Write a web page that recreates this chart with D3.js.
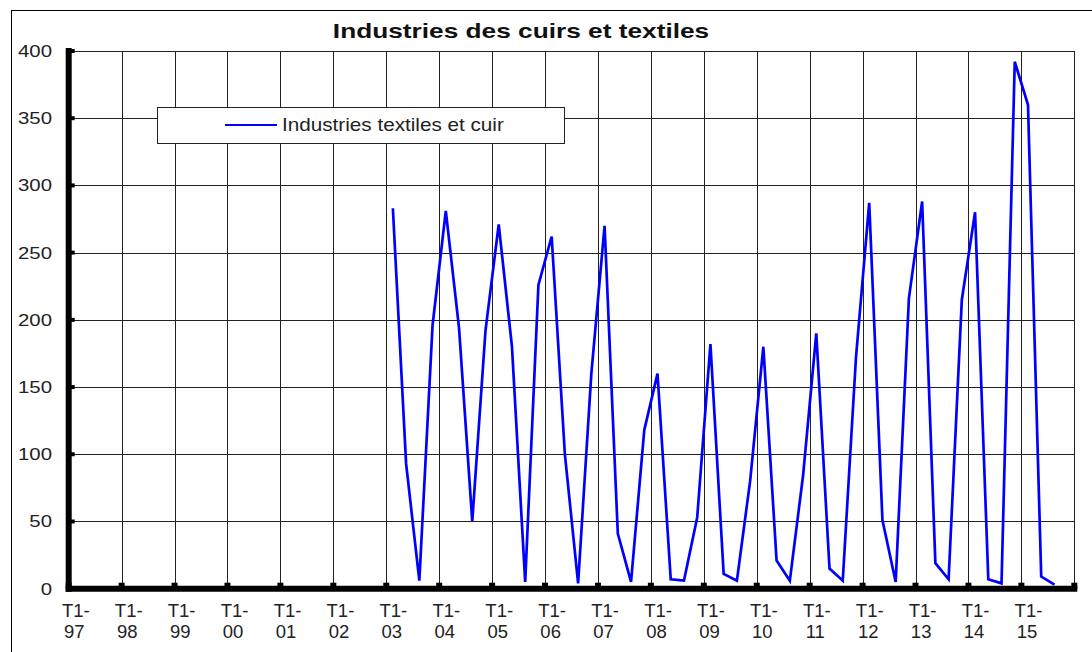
<!DOCTYPE html>
<html>
<head>
<meta charset="utf-8">
<script src="https://cdn.jsdelivr.net/npm/d3@7"></script>
<style>
  body { margin: 0; background: #fff; }
  svg { display: block; font-family: "Liberation Sans", Arial, sans-serif; }
</style>
</head>
<body>
<div id="chart"></div>
<script>
const chartTitle = "Industries des cuirs et textiles";
const seriesName = "Industries textiles et cuir";

const years = ["97", "98", "99", "00", "01", "02", "03", "04", "05", "06",
  "07", "08", "09", "10", "11", "12", "13", "14", "15"];
const quarters = ["T1", "T2", "T3", "T4"];

// one row per year, T1..T4
const values = [
  [null, null, null, null], // 97
  [null, null, null, null], // 98
  [null, null, null, null], // 99
  [null, null, null, null], // 00
  [null, null, null, null], // 01
  [null, null, null, null], // 02
  [283, 93, 6, 196],        // 03
  [281, 194, 50, 192],      // 04
  [271, 180, 5, 226],       // 05
  [262, 100, 4, 160],       // 06
  [270, 41, 5, 118],        // 07
  [160, 7, 6, 53],          // 08
  [182, 11, 6, 80],         // 09
  [180, 21, 6, 84],         // 10
  [190, 15, 6, 172],        // 11
  [287, 51, 5, 216],        // 12
  [288, 19, 7, 215],        // 13
  [280, 7, 4, 392],         // 14
  [360, 9, 3, null]         // 15
];

const yTicks = [0, 50, 100, 150, 200, 250, 300, 350, 400];

let w = 1092;
let h = 652;

let plotLeft = 68.7;
let plotRight = 1074.3;
let plotTop = 51;
let plotBottom = 588.7;

let dataset = [];
years.forEach((yr, i) => {
  quarters.forEach((q, j) => {
    dataset.push({ key: q + "-" + yr, year: yr, quarter: q, v: values[i][j] });
  });
});

const svg = d3.select("#chart").append("svg").attr("width", w).attr("height", h);

const xScale = d3.scaleBand()
  .domain(dataset.map((d) => d.key))
  .range([plotLeft, plotRight])
  .paddingInner(0)
  .paddingOuter(0);

const yScale = d3.scaleLinear().domain([0, 400]).range([plotBottom, plotTop]);

// outer frame (runs off the picture on the right and bottom)
svg.append("rect")
  .attr("x", 11.5).attr("y", 10.5)
  .attr("width", 1200).attr("height", 800)
  .attr("fill", "none").attr("stroke", "#000").attr("stroke-width", 1);

// title
svg.append("text")
  .attr("transform", "translate(521,38) scale(1.25,1)")
  .attr("text-anchor", "middle")
  .style("font-size", "21px")
  .style("font-weight", "bold")
  .style("fill", "#111")
  .text(chartTitle);

// horizontal grid
svg.append("g")
  .selectAll("line")
  .data(yTicks)
  .enter()
  .append("line")
  .attr("x1", plotLeft).attr("x2", plotRight)
  .attr("y1", (d) => Math.round(yScale(d)) + 0.5)
  .attr("y2", (d) => Math.round(yScale(d)) + 0.5)
  .attr("stroke", "#222").attr("stroke-width", 1);

// vertical grid at every T1 and at the end
const yearStarts = dataset.filter((d) => d.quarter === "T1");
const gridX = yearStarts.map((d) => xScale(d.key)).concat([plotRight]);

svg.append("g")
  .selectAll("line")
  .data(gridX)
  .enter()
  .append("line")
  .attr("x1", (d) => Math.round(d) + 0.5).attr("x2", (d) => Math.round(d) + 0.5)
  .attr("y1", plotTop).attr("y2", plotBottom)
  .attr("stroke", "#222").attr("stroke-width", 1);

// legend
svg.append("rect")
  .attr("x", 157.5).attr("y", 107.5)
  .attr("width", 407).attr("height", 36)
  .attr("fill", "#fff").attr("stroke", "#222").attr("stroke-width", 1);

svg.append("line")
  .attr("x1", 225).attr("x2", 277)
  .attr("y1", 125).attr("y2", 125)
  .attr("stroke", "#0000ff").attr("stroke-width", 2);

svg.append("text")
  .attr("transform", "translate(282,131) scale(1.15,1)")
  .style("font-size", "18px")
  .style("fill", "#222")
  .text(seriesName);

// series
const line = d3.line()
  .defined((d) => d.v !== null)
  .x((d) => xScale(d.key) + xScale.bandwidth() / 2)
  .y((d) => yScale(d.v));

svg.append("path")
  .datum(dataset)
  .attr("d", line)
  .attr("fill", "none")
  .attr("stroke", "#0000ff")
  .attr("stroke-width", 2.7)
  .attr("stroke-linejoin", "miter");

// axes (thick)
svg.append("line")
  .attr("x1", plotLeft).attr("x2", plotLeft)
  .attr("y1", plotTop - 3).attr("y2", plotBottom + 3)
  .attr("stroke", "#000").attr("stroke-width", 6);

svg.append("line")
  .attr("x1", plotLeft - 3).attr("x2", plotRight + 3)
  .attr("y1", plotBottom).attr("y2", plotBottom)
  .attr("stroke", "#000").attr("stroke-width", 6);

// tick stubs
svg.append("g")
  .selectAll("line")
  .data(yTicks)
  .enter()
  .append("line")
  .attr("x1", plotLeft).attr("x2", plotLeft + 6)
  .attr("y1", (d) => yScale(d)).attr("y2", (d) => yScale(d))
  .attr("stroke", "#000").attr("stroke-width", 4);

svg.append("g")
  .selectAll("line")
  .data(gridX)
  .enter()
  .append("line")
  .attr("x1", (d) => d).attr("x2", (d) => d)
  .attr("y1", plotBottom).attr("y2", plotBottom - 6)
  .attr("stroke", "#000").attr("stroke-width", 6);

// y labels
svg.append("g")
  .selectAll("text")
  .data(yTicks)
  .enter()
  .append("text")
  .attr("transform", (d) => `translate(52,${yScale(d) + 6}) scale(1.2,1)`)
  .attr("text-anchor", "end")
  .style("font-size", "17px")
  .style("fill", "#222")
  .text((d) => d);

// x labels, two lines (quarter on top, year below)
const xLabelGroup = svg.append("g")
  .attr("text-anchor", "middle")
  .style("font-size", "18.5px")
  .style("fill", "#222");

xLabelGroup.selectAll("text.q")
  .data(yearStarts)
  .enter()
  .append("text")
  .attr("class", "q")
  .attr("x", (d) => xScale(d.key) + xScale.bandwidth() / 2 + 0.5)
  .attr("y", 617)
  .text((d) => d.quarter + "-");

xLabelGroup.selectAll("text.yr")
  .data(yearStarts)
  .enter()
  .append("text")
  .attr("class", "yr")
  .attr("x", (d) => xScale(d.key) + xScale.bandwidth() / 2 - 1)
  .attr("y", 638)
  .text((d) => d.year);
</script>
</body>
</html>
